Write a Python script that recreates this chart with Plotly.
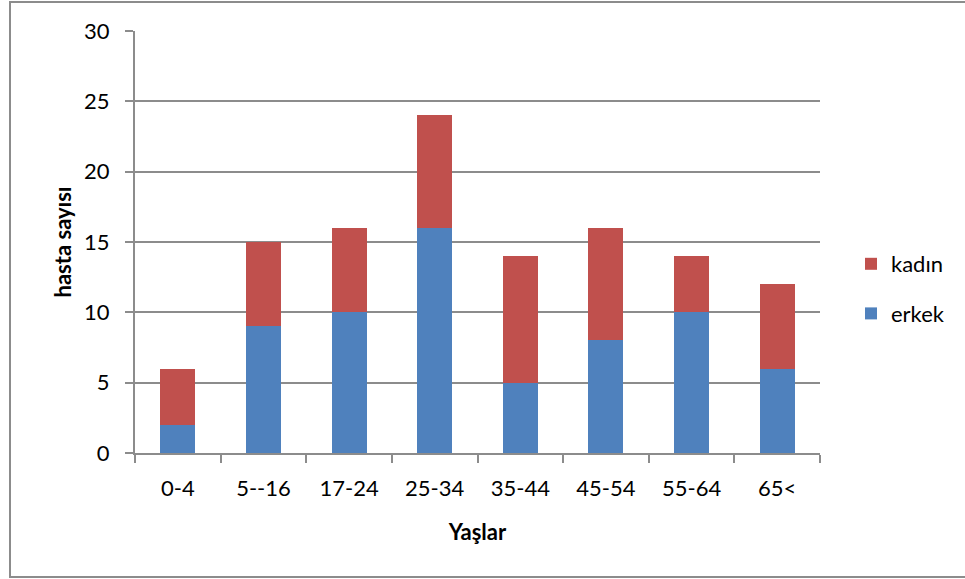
import plotly.graph_objects as go

categories = ["0-4", "5--16", "17-24", "25-34", "35-44", "45-54", "55-64", "65<"]
erkek = [2, 9, 10, 16, 5, 8, 10, 6]
kadin = [4, 6, 6, 8, 9, 8, 4, 6]
y_ticks = [0, 5, 10, 15, 20, 25, 30]

FONT = "Lato, 'Open Sans', sans-serif"
GRID = "#8c8c8c"

fig = go.Figure()
fig.add_trace(go.Bar(x=categories, y=erkek, name="erkek", marker_color="#4F81BD",
                     marker_line_width=0, legendgroup="e", legendrank=2))
fig.add_trace(go.Bar(x=categories, y=kadin, name="kadın", marker_color="#C0504D",
                     marker_line_width=0, legendgroup="k", legendrank=1))

W, H = 965, 579
L, R, T, B = 135, 145, 31, 126
pw, ph = W - L - R, H - T - B

def px(x):
    return (x - L) / pw

def py(y):
    return (H - B - y) / ph

fig.update_layout(
    width=W, height=H,
    barmode="stack", bargap=0.59,
    plot_bgcolor="white", paper_bgcolor="white",
    margin=dict(l=L, r=R, t=T, b=B),
    font=dict(family=FONT, size=22, color="#000000"),
    showlegend=True,
    legend=dict(x=px(851), y=py(289), xanchor="left", yanchor="middle",
                traceorder="grouped", tracegroupgap=18,
                font=dict(size=22), itemwidth=30, bgcolor="rgba(0,0,0,0)"),
    xaxis=dict(
        type="category", tickson="boundaries", ticks="outside", ticklen=8,
        tickcolor=GRID, tickwidth=2, showline=True, linecolor=GRID, linewidth=2,
        showgrid=False, ticklabelstandoff=15,
        title=dict(text="<b>Yaşlar</b>", font=dict(size=22), standoff=24),
    ),
    yaxis=dict(
        range=[0, 30], tickvals=y_ticks, ticks="outside", ticklen=8,
        tickcolor=GRID, tickwidth=2, showline=True, linecolor=GRID, linewidth=2,
        showgrid=True, gridcolor=GRID, gridwidth=2, zeroline=False,
        ticklabelstandoff=11,
        title=dict(text="<b>hasta sayısı</b>", font=dict(size=22), standoff=6),
    ),
    shapes=[dict(type="rect", xref="paper", yref="paper",
                 x0=px(10), x1=px(975), y0=py(577), y1=py(2),
                 line=dict(color="#8c8c8c", width=2), fillcolor="rgba(0,0,0,0)",
                 layer="below")],
)

fig.write_html("out.html", config={"displayModeBar": False},
               post_script="document.body.style.margin='0px';document.body.style.overflow='hidden';")
